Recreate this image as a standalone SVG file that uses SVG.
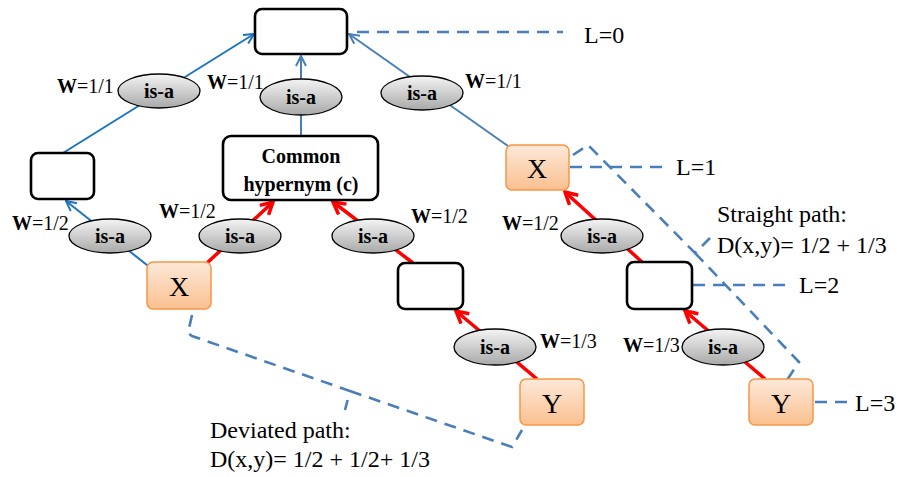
<svg xmlns="http://www.w3.org/2000/svg" width="897" height="477" viewBox="0 0 897 477">
  <style>
    .box { fill: #ffffff; stroke: #000000; stroke-width: 2.6; }
    .term { fill: url(#termFill); stroke: #F79646; stroke-width: 1.5; }
    .rel { fill: url(#relFill); stroke: #000000; stroke-width: 1.3; }
    .rel-text { font-family: "Liberation Serif", "Times New Roman", serif; font-weight: bold; font-size: 20px; text-anchor: middle; fill: #000; }
    .term-text { font-family: "Liberation Serif", "Times New Roman", serif; font-size: 28px; text-anchor: middle; fill: #000; }
    .hyp-text { font-family: "Liberation Serif", "Times New Roman", serif; font-weight: bold; font-size: 20px; text-anchor: middle; fill: #000; }
    .w { font-family: "Liberation Serif", "Times New Roman", serif; font-size: 20px; fill: #000; }
    .w tspan.b { font-weight: bold; }
    .note { font-family: "Liberation Serif", "Times New Roman", serif; font-size: 24px; fill: #000; }
    .edge-blue { stroke: #1C74C2; stroke-width: 2; fill: none; marker-end: url(#arrowBlue); }
    .edge-steel { stroke: #4A7EBB; stroke-width: 2; fill: none; marker-end: url(#arrowSteel); }
    .edge-red { stroke: #FF0000; stroke-width: 3.5; fill: none; marker-end: url(#arrowRed); }
    .dash { stroke: #4A7EBB; stroke-width: 2.6; fill: none; stroke-dasharray: 12 8; }
  </style>
  <defs>
    <linearGradient id="relFill" x1="0" y1="0" x2="0" y2="1">
      <stop offset="0" stop-color="#f4f4f4"/>
      <stop offset="1" stop-color="#a9a9a9"/>
    </linearGradient>
    <linearGradient id="termFill" x1="0" y1="0" x2="0" y2="1">
      <stop offset="0" stop-color="#FDE9D9"/>
      <stop offset="1" stop-color="#FAC090"/>
    </linearGradient>
    <marker id="arrowBlue" viewBox="0 0 12 12" refX="11" refY="6" markerWidth="12" markerHeight="12" orient="auto" markerUnits="userSpaceOnUse">
      <path d="M1,1 L11,6 L1,11" fill="none" stroke="#1C74C2" stroke-width="2"/>
    </marker>
    <marker id="arrowSteel" viewBox="0 0 12 12" refX="11" refY="6" markerWidth="12" markerHeight="12" orient="auto" markerUnits="userSpaceOnUse">
      <path d="M1,1 L11,6 L1,11" fill="none" stroke="#4A7EBB" stroke-width="2"/>
    </marker>
    <marker id="arrowRed" viewBox="0 0 16 16" refX="14" refY="8" markerWidth="16" markerHeight="16" orient="auto" markerUnits="userSpaceOnUse">
      <path d="M2,1.5 L14,8 L2,14.5" fill="none" stroke="#FF0000" stroke-width="3.5"/>
    </marker>
  </defs>

  <!-- connectors -->
  <g id="connectors">
    <line class="edge-blue" x1="63" y1="153" x2="254" y2="34"/>
    <line class="edge-steel" x1="301" y1="136" x2="301" y2="56"/>
    <line class="edge-steel" x1="508" y1="146" x2="349" y2="34"/>
    <line class="edge-blue" x1="152" y1="269" x2="66" y2="201"/>
    <line class="edge-red" x1="207" y1="263" x2="273" y2="202"/>
    <line class="edge-red" x1="413" y1="263" x2="333" y2="202"/>
    <line class="edge-red" x1="537" y1="379" x2="456" y2="311"/>
    <line class="edge-red" x1="642" y1="262" x2="565" y2="192"/>
    <line class="edge-red" x1="765" y1="379" x2="685" y2="311"/>
  </g>

  <!-- level guides and path braces -->
  <g id="guides">
    <line class="dash" x1="357" y1="32" x2="563" y2="32"/>
    <line class="dash" x1="570" y1="167" x2="668" y2="167"/>
    <line class="dash" x1="693" y1="285" x2="792" y2="285"/>
    <line class="dash" x1="815" y1="402" x2="849" y2="402"/>
    <path class="dash" d="M573,155 L588,145 L695,253 L710,238 M695,253 L799,362 L787,380"/>
    <path class="dash" d="M192,315 L188,333 L192,336 L350,391 L345,410 M350,391 L512,447 L522,430"/>
  </g>

  <!-- nodes -->
  <g id="root"><rect class="box" x="255" y="9" width="92" height="45" rx="7"/></g>
  <g id="left-parent"><rect class="box" x="31" y="153" width="63" height="46" rx="7"/></g>
  <g id="common-hypernym">
    <rect class="box" x="223" y="136" width="155" height="64" rx="8"/>
    <text class="hyp-text" x="301" y="163">Common</text>
    <text class="hyp-text" x="301" y="191">hypernym (c)</text>
  </g>
  <g id="mid-box"><rect class="box" x="398" y="263" width="65" height="46" rx="7"/></g>
  <g id="right-box"><rect class="box" x="627" y="262" width="65" height="47" rx="7"/></g>

  <g id="x-left">
    <rect class="term" x="147" y="262" width="64" height="47" rx="6"/>
    <text class="term-text" x="179" y="296">X</text>
  </g>
  <g id="y-left">
    <rect class="term" x="520" y="379" width="64" height="46" rx="6"/>
    <text class="term-text" x="552" y="413">Y</text>
  </g>
  <g id="x-right">
    <rect class="term" x="506" y="145" width="63" height="45" rx="6"/>
    <text class="term-text" x="537" y="178">X</text>
  </g>
  <g id="y-right">
    <rect class="term" x="749" y="379" width="64" height="46" rx="6"/>
    <text class="term-text" x="781" y="413">Y</text>
  </g>

  <!-- is-a relation ellipses -->
  <g id="isa-1"><ellipse class="rel" cx="159" cy="91" rx="41" ry="17"/><text class="rel-text" x="159" y="98">is-a</text></g>
  <g id="isa-2"><ellipse class="rel" cx="301" cy="97" rx="41" ry="18"/><text class="rel-text" x="301" y="104">is-a</text></g>
  <g id="isa-3"><ellipse class="rel" cx="422" cy="93" rx="41" ry="17"/><text class="rel-text" x="422" y="100">is-a</text></g>
  <g id="isa-4"><ellipse class="rel" cx="110" cy="236" rx="41" ry="17"/><text class="rel-text" x="110" y="243">is-a</text></g>
  <g id="isa-5"><ellipse class="rel" cx="240" cy="236" rx="41" ry="17"/><text class="rel-text" x="240" y="243">is-a</text></g>
  <g id="isa-6"><ellipse class="rel" cx="373" cy="236" rx="41" ry="17"/><text class="rel-text" x="373" y="243">is-a</text></g>
  <g id="isa-7"><ellipse class="rel" cx="602" cy="236" rx="41" ry="17"/><text class="rel-text" x="602" y="243">is-a</text></g>
  <g id="isa-8"><ellipse class="rel" cx="495" cy="347" rx="41" ry="18"/><text class="rel-text" x="495" y="354">is-a</text></g>
  <g id="isa-9"><ellipse class="rel" cx="723" cy="347" rx="41" ry="18"/><text class="rel-text" x="723" y="354">is-a</text></g>

  <!-- weights -->
  <g id="weights">
    <text class="w" x="57" y="93"><tspan class="b">W</tspan>=1/1</text>
    <text class="w" x="207" y="89"><tspan class="b">W</tspan>=1/1</text>
    <text class="w" x="465" y="88"><tspan class="b">W</tspan>=1/1</text>
    <text class="w" x="12" y="230"><tspan class="b">W</tspan>=1/2</text>
    <text class="w" x="159" y="218"><tspan class="b">W</tspan>=1/2</text>
    <text class="w" x="411" y="223"><tspan class="b">W</tspan>=1/2</text>
    <text class="w" x="502" y="230"><tspan class="b">W</tspan>=1/2</text>
    <text class="w" x="540" y="348"><tspan class="b">W</tspan>=1/3</text>
    <text class="w" x="623" y="352"><tspan class="b">W</tspan>=1/3</text>
  </g>

  <!-- level labels and path notes -->
  <g id="labels">
    <text class="note" x="584" y="43">L=0</text>
    <text class="note" x="676" y="175">L=1</text>
    <text class="note" x="799" y="293">L=2</text>
    <text class="note" x="855" y="411">L=3</text>
    <text class="note" x="717" y="222">Straight path:</text>
    <text class="note" x="717" y="253">D(x,y)= 1/2 + 1/3</text>
    <text class="note" x="210" y="438">Deviated path:</text>
    <text class="note" x="210" y="467">D(x,y)= 1/2 + 1/2+ 1/3</text>
  </g>
</svg>
